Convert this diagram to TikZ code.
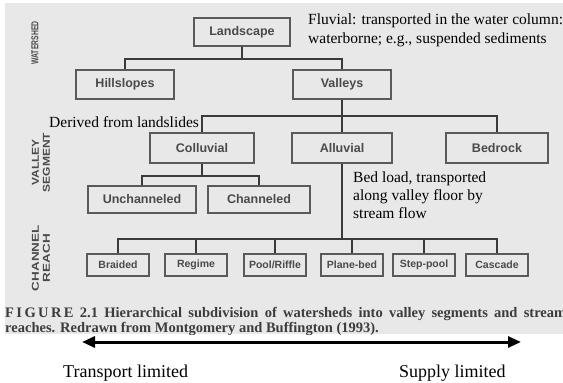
\documentclass[tikz,border=0pt]{standalone}
\usepackage{fontspec}
\setmainfont{Liberation Serif}
\setsansfont{Liberation Sans}
\usetikzlibrary{arrows.meta}
\definecolor{scanbg}{HTML}{E8E8E8}
\definecolor{boxline}{HTML}{5A5A5A}
\definecolor{boxtext}{HTML}{4A4A4A}
\definecolor{linkcol}{HTML}{3A3A3A}
\definecolor{captext}{HTML}{3C3C3C}
\begin{document}
\begin{tikzpicture}[x=1pt,y=-1pt,
  box/.style={draw=boxline, line width=1.2pt, inner sep=0pt, minimum height=29pt,
    text=boxtext, font=\sffamily\bfseries\fontsize{12.5}{14}\selectfont},
  reach/.style={box, minimum height=22pt, minimum width=62pt,
    font=\sffamily\bfseries\fontsize{10.5}{12}\selectfont},
  link/.style={draw=linkcol, line width=1.6pt},
  note/.style={anchor=base west, inner sep=0pt, text=black,
    font=\fontsize{15.5}{18}\selectfont},
  endnote/.style={anchor=base west, inner sep=0pt, text=black,
    font=\fontsize{18}{20}\selectfont},
  caption/.style={anchor=base west, inner sep=0pt, text=captext,
    font=\bfseries\fontsize{14.5}{15}\selectfont},
  levellabel/.style={rotate=90, inner sep=0pt, text=boxtext, align=center,
    font=\sffamily\bfseries\fontsize{10}{11}\selectfont},
]
\useasboundingbox (0,0) rectangle (563,383);
\fill[white] (0,0) rectangle (563,383);
\fill[scanbg] (5,3) rectangle (563,334);

% level labels
\node[levellabel] (lwat) at (35,43) {\scalebox{0.68}[1]{WATERSHED}};
\node[levellabel] (lval) at (41,162.5) {\scalebox{1.2}[1]{VALLEY}\\\scalebox{1.2}[1]{SEGMENT}};
\node[levellabel] (lcha) at (41,258) {\scalebox{1.35}[1]{CHANNEL}\\\scalebox{1.35}[1]{REACH}};

% hierarchy boxes
\node[box, minimum width=96pt, minimum height=28pt] (land) at (242,32) {Landscape};
\node[box, minimum width=98pt] (hill) at (125,84.5) {Hillslopes};
\node[box, minimum width=98pt] (vall) at (342,84.5) {Valleys};
\node[box, minimum width=104pt, minimum height=30pt] (coll) at (202,148) {Colluvial};
\node[box, minimum width=100pt, minimum height=30pt] (allu) at (342,148) {Alluvial};
\node[box, minimum width=102pt, minimum height=30pt] (bedr) at (497,148) {Bedrock};
\node[box, minimum width=108pt, minimum height=27pt] (unch) at (142,199.5) {Unchanneled};
\node[box, minimum width=102pt, minimum height=27pt] (chan) at (259,199.5) {Channeled};
\node[reach] (brai) at (118,265) {Braided};
\node[reach] (regi) at (196,265) {Regime};
\node[reach] (pool) at (275,265) {Pool/Riffle};
\node[reach] (plan) at (352,265) {Plane-bed};
\node[reach] (step) at (424,265) {Step-pool};
\node[reach] (casc) at (497,265) {Cascade};

% junctions
\coordinate (j1) at (242,59);
\coordinate (j2) at (342,116);
\coordinate (j3) at (202,176);
\coordinate (j4) at (342,239);

% connectors
\draw[link] (land.south) -- (j1);
\draw[link] (hill.north) |- (j1) -| (vall.north);
\draw[link] (vall.south) -- (j2);
\draw[link] (coll.north) |- (j2) -| (bedr.north);
\draw[link] (allu.north) -- (j2);
\draw[link] (coll.south) -- (j3);
\draw[link] (unch.north) |- (j3) -| (chan.north);
\draw[link] (allu.south) -- (j4);
\draw[link] (brai.north) |- (j4) -| (casc.north);
\draw[link] (regi.north) -- (regi.north |- j4);
\draw[link] (pool.north) -- (pool.north |- j4);
\draw[link] (plan.north) -- (plan.north |- j4);
\draw[link] (step.north) -- (step.north |- j4);

% annotations
\node[note] (flu1) at (308,24) {Fluvial: transported in the water column:};
\node[note] (flu2) at (308,43) {waterborne; e.g., suspended sediments};
\node[note] (der) at (49,127) {Derived from landslides};
\node[note] (bed1) at (353,182) {Bed load, transported};
\node[note] (bed2) at (353,200) {along valley floor by};
\node[note] (bed3) at (353,218) {stream flow};

% caption of the scanned figure (cut at the scan's right edge, as in the original)
\begin{scope}
\clip (5,3) rectangle (563,334);
\node[caption] (cap1) at (5,317) {\makebox[561pt][s]{F\,I\,G\,U\,R\,E 2.1 Hierarchical subdivision of watersheds into valley segments and stream}};
\node[caption] (cap2) at (5,332) {reaches. Redrawn from Montgomery and Buffington (1993).};
\end{scope}

% transport arrow
\coordinate (tl) at (82,342);
\coordinate (sl) at (521,342);
\draw[line width=3pt, {Triangle[length=13pt,width=11pt]}-{Triangle[length=13pt,width=11pt]}] (tl) -- (sl);
\node[endnote] (tlim) at (63,377) {Transport limited};
\node[endnote] (slim) at (399,377) {Supply limited};
\end{tikzpicture}
\end{document}
